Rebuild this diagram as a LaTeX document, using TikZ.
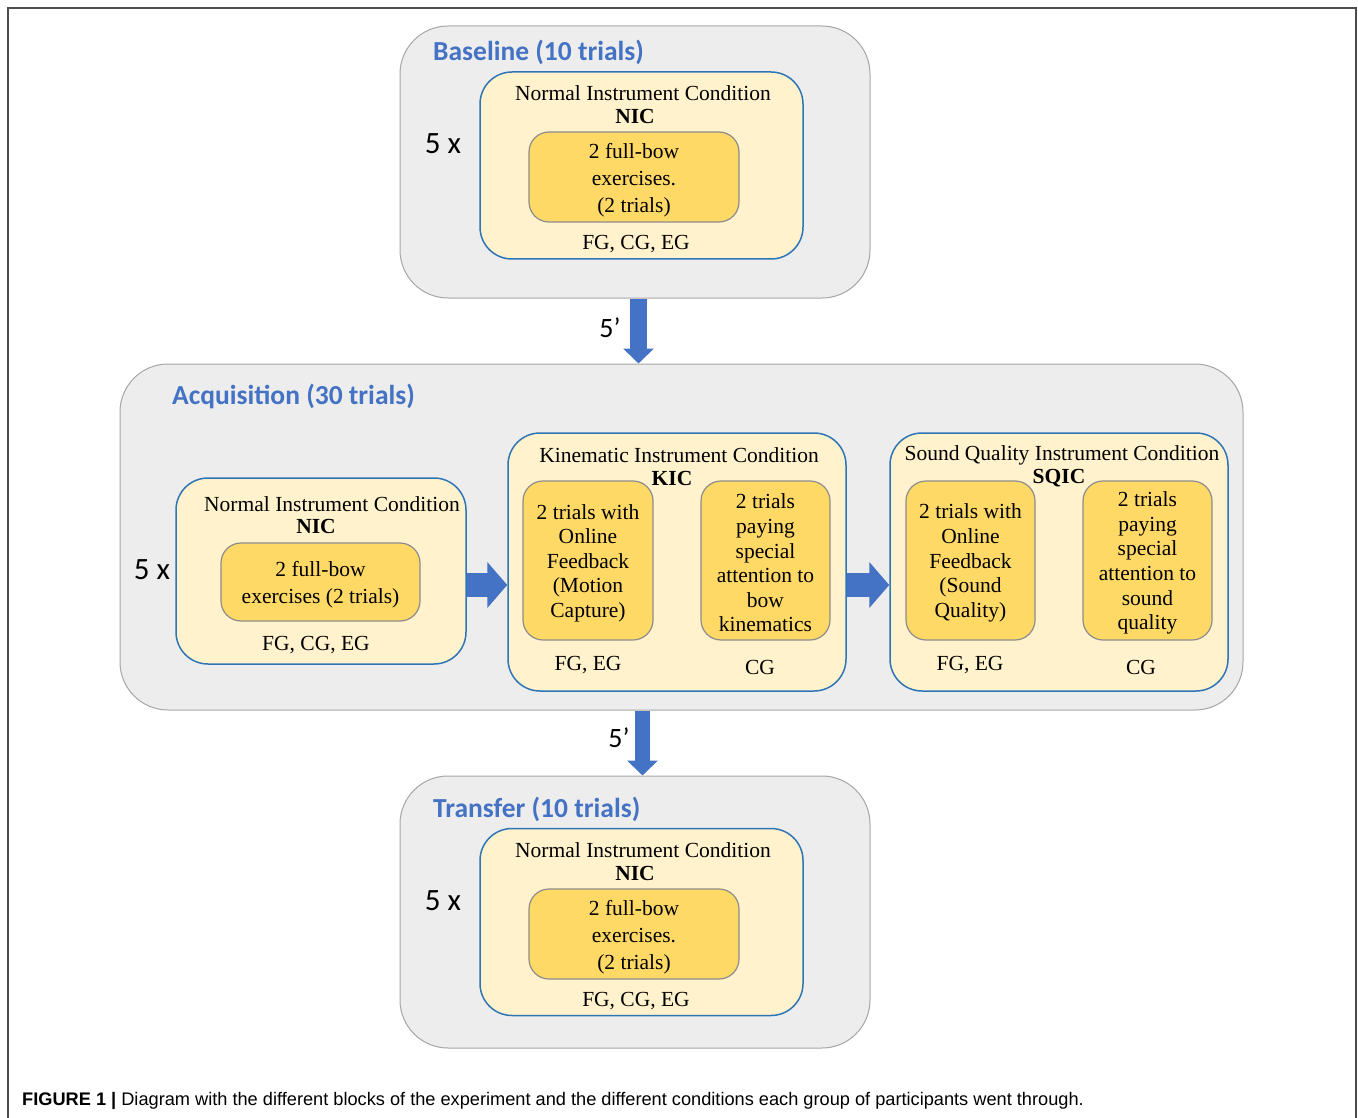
\documentclass[tikz,border=0pt]{standalone}
\usepackage{fontspec}
\setmainfont{Liberation Serif}
\newfontfamily\calfont{Carlito}
\newfontfamily\capfont{Liberation Sans}
\usetikzlibrary{arrows.meta}

\definecolor{blockgray}{HTML}{EDEDED}
\definecolor{blockline}{HTML}{A6A6A6}
\definecolor{condfill}{HTML}{FFF2CC}
\definecolor{condline}{HTML}{2E75B6}
\definecolor{taskfill}{HTML}{FFD966}
\definecolor{taskline}{HTML}{8C8C8C}
\definecolor{titleblue}{HTML}{4472C4}

\tikzset{
  block/.style={draw=blockline, fill=blockgray, line width=1pt, rounded corners=48pt, inner sep=0pt},
  cond/.style={draw=condline, fill=condfill, line width=1.5pt, rounded corners=32pt, inner sep=0pt},
  task/.style={draw=taskline, fill=taskfill, line width=1.2pt, rounded corners=20pt, inner sep=0pt, align=center},
  title/.style={text=titleblue, font=\calfont\bfseries\fontsize{27.5}{32}\selectfont, anchor=west, inner sep=0pt},
  times/.style={font=\calfont\fontsize{31}{36}\selectfont, inner sep=0pt},
  pause/.style={font=\calfont\fontsize{28}{32}\selectfont, inner sep=0pt},
  txt/.style={font=\fontsize{21.5}{26}\selectfont, inner sep=0pt, align=center},
  fatv/.style={draw=titleblue, line width=#1, -{Triangle[width=30pt, length=15pt]}},
  fath/.style={draw=titleblue, line width=24pt, -{Triangle[width=45pt, length=20pt]}}
}

\begin{document}
\begin{tikzpicture}[x=1pt, y=-1pt]
\useasboundingbox (0,0) rectangle (1358,1118);
\draw[gray!60!black, line width=1.5pt] (8,1118) -- (8,8) -- (1356,8) -- (1356,1118);

% baseline
\node[block, minimum width=470pt, minimum height=272pt] (base) at (635,162) {};
\node[title] (basetitle) at (433,52) {Baseline (10 trials)};
\node[times] (basetimes) at (443,144) {5 x};
\node[cond, minimum width=323pt, minimum height=187pt] (bnic) at (641.5,165.5) {};
\node[txt] (bnicname) at (643,93) {Normal Instrument Condition};
\node[txt] (bnicabbr) at (635,116) {\textbf{NIC}};
\node[task, minimum width=210pt, minimum height=90pt, font=\fontsize{21.5}{27}\selectfont] (btask) at (634,177) {\rule{0pt}{21pt}2 full-bow\\exercises.\\(2 trials)};
\node[txt] (bgroups) at (636,244) {FG, CG, EG};

% acquisition
\node[block, minimum width=1123pt, minimum height=346pt] (acq) at (681.5,537) {};
\node[title] (acqtitle) at (172,396) {Acquisition (30 trials)};
\node[times] (acqtimes) at (152,570) {5 x};
\node[cond, minimum width=290pt, minimum height=186pt] (anic) at (321,571) {};
\node[txt] (anicname) at (332,504) {Normal Instrument Condition};
\node[txt] (anicabbr) at (316,526) {\textbf{NIC}};
\node[task, minimum width=199pt, minimum height=78pt, font=\fontsize{21.5}{27}\selectfont] (atask) at (320.5,582) {\rule{0pt}{21pt}2 full-bow\\exercises (2 trials)};
\node[txt] (agroups) at (316,645) {FG, CG, EG};

\node[cond, minimum width=338pt, minimum height=258pt] (kic) at (677,562) {};
\node[txt] (kicname) at (679,455) {Kinematic Instrument Condition};
\node[txt] (kicabbr) at (672,478) {\textbf{KIC}};
\node[task, minimum width=130pt, minimum height=159pt, font=\fontsize{21.5}{24.6}\selectfont] (kicfb) at (588,560.5) {\rule{0pt}{20pt}2 trials with\\Online\\Feedback\\(Motion\\Capture)};
\node[task, minimum width=129pt, minimum height=159pt, font=\fontsize{21.5}{24.6}\selectfont] (kicatt) at (765.5,560.5) {\rule{0pt}{20pt}2 trials\\paying\\special\\attention to\\bow\\kinematics};
\node[txt] (kicfe) at (588,665) {FG, EG};
\node[txt] (kiccg) at (760,667) {CG};

\node[cond, minimum width=338pt, minimum height=258pt] (sqic) at (1059,562) {};
\node[txt] (sqicname) at (1062,455) {Sound Quality Instrument Condition};
\node[txt] (sqicabbr) at (1059,478) {\textbf{SQIC}};
\node[task, minimum width=129pt, minimum height=159pt, font=\fontsize{21.5}{24.6}\selectfont] (sqicfb) at (970.5,560.5) {\rule{0pt}{20pt}2 trials with\\Online\\Feedback\\(Sound\\Quality)};
\node[task, minimum width=129pt, minimum height=159pt, font=\fontsize{21.5}{24.6}\selectfont] (sqicatt) at (1147.5,560.5) {\rule{0pt}{20pt}2 trials\\paying\\special\\attention to\\sound\\quality};
\node[txt] (sqicfe) at (970,665) {FG, EG};
\node[txt] (sqiccg) at (1141,667) {CG};

% transfer
\node[block, minimum width=470pt, minimum height=272pt] (trans) at (635,912) {};
\node[title] (transtitle) at (433,809) {Transfer (10 trials)};
\node[times] (transtimes) at (443,901) {5 x};
\node[cond, minimum width=323pt, minimum height=187pt] (tnic) at (641.5,922) {};
\node[txt] (tnicname) at (643,850) {Normal Instrument Condition};
\node[txt] (tnicabbr) at (635,873) {\textbf{NIC}};
\node[task, minimum width=210pt, minimum height=90pt, font=\fontsize{21.5}{27}\selectfont] (ttask) at (634,934) {\rule{0pt}{21pt}2 full-bow\\exercises.\\(2 trials)};
\node[txt] (tgroups) at (636,1001) {FG, CG, EG};

% arrows
\draw[fatv=17pt] ([xshift=3.5pt]base.south) -- ([xshift=3.5pt]base.south |- acq.north);
\node[pause] (pause1) at (610,328) {5’};
\draw[fath] ([yshift=-14pt]anic.east) -- ([yshift=-14pt]anic.east -| kic.west);
\draw[fath] ([yshift=-23pt]kic.east) -- ([yshift=-23pt]kic.east -| sqic.west);
\draw[fatv=15pt] ([xshift=7.5pt]trans.north |- acq.south) -- ([xshift=7.5pt]trans.north);
\node[pause] (pause2) at (619,738) {5’};

% caption
\node[anchor=west, inner sep=0pt, font=\capfont\fontsize{18.2}{21}\selectfont] (caption) at (22,1101) {\textbf{FIGURE 1 |} Diagram with the different blocks of the experiment and the different conditions each group of participants went through.};
\end{tikzpicture}
\end{document}
